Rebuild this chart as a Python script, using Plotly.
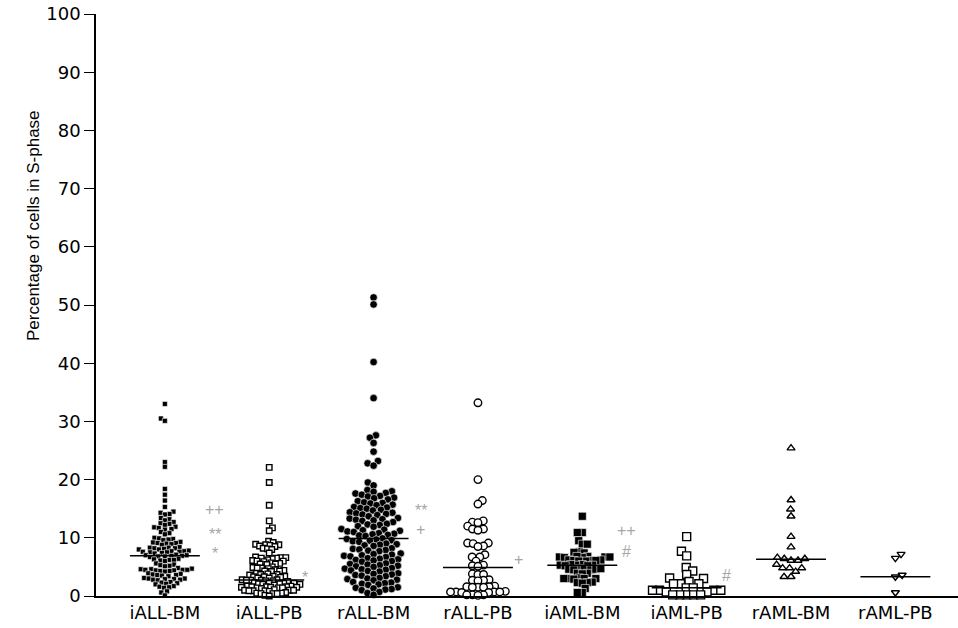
import numpy as np
import plotly.graph_objects as go

categories = ["iALL-BM", "iALL-PB", "rALL-BM", "rALL-PB",
              "iAML-BM", "iAML-PB", "rAML-BM", "rAML-PB"]

iALL_BM = [33.0, 30.5, 30.1, 23.0, 22.2, 18.4, 17.4, 16.4, 15.3,
           14.5, 14.3, 14.1, 14.0, 13.4, 13.2, 13.0,
           12.7, 12.5, 12.4, 12.2, 11.9, 11.8, 11.7, 11.5, 11.4,
           11.0, 10.8, 10.6, 10.0, 9.9, 9.8, 9.7, 9.6,
           9.3, 9.2, 9.1, 9.1, 9.0, 8.9, 8.8,
           8.4, 8.3, 8.3, 8.2, 8.2, 8.1, 8.0, 8.0,
           7.8, 7.7, 7.7, 7.6, 7.6, 7.5, 7.5, 7.4, 7.3,
           7.1, 7.0, 7.0, 6.9, 6.9, 6.8, 6.8, 6.7,
           6.4, 6.3, 6.2, 6.2, 6.1, 6.0,
           5.6, 5.4, 5.3, 5.2, 5.1,
           4.8, 4.7, 4.6, 4.6, 4.5, 4.5, 4.5, 4.4, 4.4, 4.3, 4.3, 4.2,
           3.9, 3.8, 3.7, 3.6, 3.6, 3.5, 3.4,
           3.1, 3.0, 3.0, 2.9, 2.9, 2.8, 2.8, 2.7,
           2.4, 2.3, 2.2, 2.1, 2.0, 1.7, 1.6, 1.5, 1.4, 0.8, 0.6, 0.1]

iALL_PB = [22.1, 19.5, 15.6, 12.9, 11.7, 11.2, 9.4, 9.2,
           8.9, 8.8, 8.8, 8.7, 8.6, 8.5, 8.2, 8.1, 8.0, 7.4,
           6.7, 6.6, 6.6, 6.5, 6.5, 6.4, 6.2, 6.1, 6.0, 6.0, 5.9,
           5.7, 5.6, 5.5, 5.5, 5.4, 5.0, 4.9, 4.8, 4.8, 4.7,
           4.5, 4.4, 4.3, 4.3, 4.2, 3.9, 3.8, 3.7, 3.7, 3.6,
           3.4, 3.4, 3.3, 3.3, 3.2, 3.1, 3.1,
           2.8, 2.8, 2.7, 2.7, 2.7, 2.6, 2.6, 2.5,
           2.3, 2.2, 2.2, 2.2, 2.1, 2.1, 2.0, 2.0, 1.9,
           1.7, 1.7, 1.6, 1.6, 1.6, 1.5, 1.5, 1.5, 1.4, 1.4, 1.4, 1.3,
           1.1, 1.0, 1.0, 1.0, 0.9, 0.9, 0.9, 0.8,
           0.6, 0.5, 0.5, 0.4, 0.4, 0.4, 0.1, 0.0]

rALL_BM = [51.3, 50.1, 40.2, 34.0, 27.6, 27.2, 26.3, 24.8, 23.2, 22.8, 22.4,
           19.5, 19.0, 18.2, 18.0, 17.9, 17.7, 17.6, 17.4,
           17.2, 17.1, 16.9, 16.8, 16.6, 16.3, 16.1, 16.0, 15.9, 15.7, 15.6,
           15.3, 15.2, 15.1, 15.0, 14.8, 14.7,
           14.4, 14.3, 14.2, 14.1, 14.0, 13.9, 13.7,
           13.4, 13.3, 13.2, 13.1, 13.0, 12.9, 12.7,
           12.4, 12.3, 12.2, 12.0, 11.9,
           11.5, 11.4, 11.3, 11.2, 11.1, 11.0, 10.8,
           10.7, 10.6, 10.5, 10.4, 10.3,
           9.9, 9.8, 9.7, 9.6, 9.5, 9.4, 9.3,
           9.0, 8.9, 8.8, 8.7, 8.6,
           8.2, 8.1, 8.0, 7.9, 7.8, 7.7,
           7.3, 7.2, 7.1, 7.0, 6.9, 6.8, 6.7,
           6.5, 6.4, 6.3, 6.2, 6.1, 6.0, 5.9,
           5.6, 5.5, 5.4, 5.3, 5.2, 5.1, 5.0,
           4.8, 4.7, 4.6, 4.5, 4.4, 4.3, 4.2,
           3.9, 3.8, 3.7, 3.6, 3.5, 3.4,
           3.1, 3.0, 2.9, 2.8, 2.7,
           2.4, 2.3, 2.2, 2.1, 2.0, 1.9,
           1.5, 1.4, 1.3, 1.2, 1.1, 1.0, 0.7, 0.5, 0.2]

rALL_PB = [33.2, 20.0, 16.4, 15.8, 12.9, 12.7, 12.6, 12.0, 11.5, 11.5, 11.3,
           9.1, 9.1, 9.0, 8.6, 8.5, 7.1, 6.7, 6.7, 6.0,
           5.3, 5.2, 5.1, 3.8, 3.7, 3.7, 2.8, 2.7, 2.7, 2.6,
           1.7, 1.6, 1.6, 1.5, 1.5, 1.5,
           0.8, 0.7, 0.7, 0.7, 0.7, 0.6, 0.6, 0.2, 0.2, 0.2, 0.1]

iAML_BM = [13.7, 10.9, 10.9, 9.5, 8.9, 8.9, 7.6, 7.5, 7.4,
           6.8, 6.7, 6.7, 6.6, 6.7, 6.8, 6.6,
           6.2, 6.1, 6.0, 6.1, 6.2, 6.0, 6.1,
           5.4, 5.3, 5.3, 5.2, 5.3, 5.4, 5.2,
           4.7, 4.6, 4.6, 4.5, 4.6, 4.7, 4.5,
           3.9, 3.9, 3.8, 3.1, 3.0, 3.0, 3.0, 2.9, 3.0,
           2.4, 2.3, 2.3, 2.2, 1.3, 0.6, 0.6]

iAML_PB = [10.2, 7.7, 6.9, 4.9, 4.3, 3.7, 3.1, 3.0, 2.5, 2.1, 2.1, 2.1,
           1.4, 1.4, 1.0, 1.0, 1.0, 1.0, 0.7, 0.7, 0.2, 0.2, 0.2, 0.2, 0.2]

rAML_BM = [25.4, 16.5, 14.9, 13.7, 10.2, 8.4, 6.6, 6.4, 6.4, 6.1, 6.1,
           5.4, 4.8, 4.8, 4.8, 4.2, 3.3, 3.3]

rAML_PB = [7.2, 6.5, 3.6, 3.3, 0.6]

medians = [6.9, 2.75, 9.9, 4.9, 5.3, 1.4, 6.3, 3.3]

sig_marks = [(0, 14.8, "++"), (0, 10.8, "**"), (0, 7.4, "*"),
             (1, 3.4, "*"), (2, 14.8, "**"), (2, 11.5, "+"),
             (3, 6.2, "+"), (4, 11.2, "++"), (4, 7.6, "#"), (5, 3.6, "#")]

y_title = "Percentage of cells in S-phase"

groups = [iALL_BM, iALL_PB, rALL_BM, rALL_PB, iAML_BM, iAML_PB, rAML_BM, rAML_PB]

# ---- styling / layout constants ----
W, H = 958, 628
ML, MR, MT, MB = 96, 0, 14, 32
XR = [-0.66, 7.6]
YR = [0, 100]
px_x = (W - ML - MR) / (XR[1] - XR[0])
px_y = (H - MT - MB) / (YR[1] - YR[0])

symbols = ["square", "square", "circle", "circle", "square", "square",
           "triangle-up", "triangle-down"]
filled = [True, False, True, False, True, False, False, False]
sizes = [5, 5.5, 7.5, 7.5, 8, 8, 7, 7]
spacing = [4.6, 4.3, 6.4, 5.6, 5.0, 7.0, 7.0, 7.0]
sig_dx = {0: 0.48, 1: 0.34, 2: 0.45, 3: 0.39, 4: 0.42, 5: 0.38}
half_w = 0.335
title_center_px = (33, 226)   # page pixel position of the y-axis title centre


def swarm(values, diam):
    vals = np.asarray(values, dtype=float)
    order = np.argsort(vals, kind="stable")
    placed = []
    xs = np.zeros(len(vals))
    for k, i in enumerate(order):
        y = vals[i] * px_y
        near = [(px, py) for px, py in placed if abs(py - y) < diam]
        cands = [0.0]
        for px, py in near:
            dx = np.sqrt(diam ** 2 - (py - y) ** 2)
            cands += [px + dx, px - dx]
        sgn = 1 if k % 2 == 0 else -1
        cands.sort(key=lambda c: (round(abs(c), 6), -sgn * c))
        xsel = cands[-1]
        for c in cands:
            if all((c - px) ** 2 + (y - py) ** 2 >= diam ** 2 - 1e-6 for px, py in near):
                xsel = c
                break
        placed.append((xsel, y))
        xs[i] = xsel / px_x
    return xs


fig = go.Figure()
for gi, vals in enumerate(groups):
    offs = swarm(vals, spacing[gi])
    if filled[gi]:
        mk = dict(symbol=symbols[gi], size=sizes[gi], color="black",
                  line=dict(color="white", width=0.6))
    else:
        mk = dict(symbol=symbols[gi], size=sizes[gi], color="white",
                  line=dict(color="black", width=1.4))
    fig.add_trace(go.Scatter(x=gi + offs, y=vals, mode="markers", marker=mk,
                             cliponaxis=False, hoverinfo="skip"))

for gi, m in enumerate(medians):
    fig.add_trace(go.Scatter(x=[gi - half_w, gi + half_w], y=[m, m], mode="lines",
                             line=dict(color="black", width=1.5),
                             cliponaxis=False, hoverinfo="skip"))

for gi, yv, txt in sig_marks:
    fig.add_annotation(x=gi + sig_dx[gi], y=yv, text=txt, showarrow=False,
                       xanchor="center", yanchor="middle", borderpad=0,
                       yshift=-1 if "*" in txt else 0,
                       font=dict(family="Liberation Sans", size=16, color="#a6a6a6"))

# y-axis title (placed above the axis centre, as in the reference)
fig.add_annotation(xref="paper", yref="paper", x=0, y=1,
                   xshift=title_center_px[0] - ML,
                   yshift=-(title_center_px[1] - MT),
                   text=y_title, textangle=-90, showarrow=False,
                   xanchor="center", yanchor="middle",
                   font=dict(family="Liberation Sans", size=17, color="black"))

fig.update_layout(
    width=W, height=H, autosize=False,
    margin=dict(l=ML, r=MR, t=MT, b=MB),
    plot_bgcolor="white", paper_bgcolor="white", showlegend=False,
    font=dict(family="DejaVu Sans", size=18, color="black"),
)
fig.update_xaxes(range=XR, tickvals=list(range(len(categories))), ticktext=categories,
                 showline=True, linecolor="black", linewidth=1.5, ticks="",
                 showgrid=False, zeroline=False, tickfont=dict(size=18))
fig.update_yaxes(range=YR, dtick=10, ticks="outside", ticklen=10, tickwidth=1.3,
                 tickcolor="black", showline=True, linecolor="black", linewidth=1.5,
                 showgrid=False, zeroline=False, tickfont=dict(size=18))

fig.write_html("out.html", config={"displayModeBar": False},
               post_script="document.body.style.margin='0';document.body.style.overflow='hidden';")
